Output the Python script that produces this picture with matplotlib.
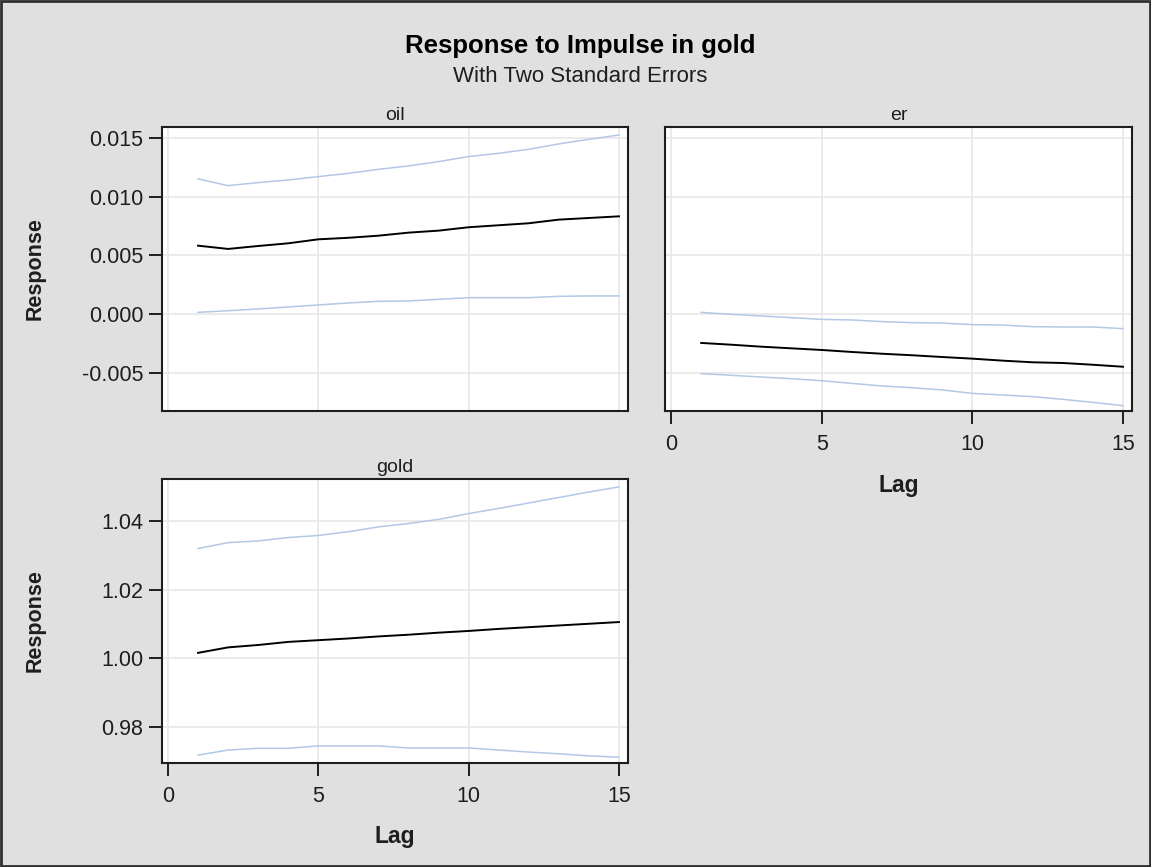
import matplotlib
matplotlib.use("Agg")
import matplotlib.pyplot as plt
from matplotlib.patches import Rectangle
from matplotlib.ticker import FormatStrFormatter

plt.rcParams["font.family"] = ["Liberation Sans", "DejaVu Sans"]

lags = list(range(1, 16))

oil_up = [0.01152, 0.01095, 0.01121, 0.01143, 0.01172, 0.01200, 0.01234, 0.01263,
          0.01300, 0.01343, 0.01371, 0.01405, 0.01451, 0.01490, 0.01527]
oil_mid = [0.00583, 0.00555, 0.00580, 0.00603, 0.00637, 0.00650, 0.00668, 0.00694,
           0.00711, 0.00740, 0.00757, 0.00774, 0.00805, 0.00819, 0.00833]
oil_lo = [0.00014, 0.00028, 0.00043, 0.00060, 0.00077, 0.00094, 0.00108, 0.00111,
          0.00125, 0.00139, 0.00139, 0.00139, 0.00151, 0.00154, 0.00154]

er_up = [0.00014, -0.00003, -0.00017, -0.00031, -0.00046, -0.00051, -0.00065, -0.00074,
         -0.00077, -0.00091, -0.00094, -0.00108, -0.00111, -0.00111, -0.00125]
er_mid = [-0.00247, -0.00262, -0.00279, -0.00293, -0.00307, -0.00324, -0.00339, -0.00352,
          -0.00367, -0.00381, -0.00398, -0.00412, -0.00418, -0.00433, -0.00450]
er_lo = [-0.00509, -0.00523, -0.00538, -0.00552, -0.00569, -0.00592, -0.00614, -0.00629,
         -0.00648, -0.00677, -0.00691, -0.00705, -0.00728, -0.00754, -0.00782]

gold_up = [1.0321, 1.0338, 1.0343, 1.0353, 1.0359, 1.0370, 1.0384, 1.0394,
           1.0406, 1.0423, 1.0438, 1.0454, 1.0470, 1.0486, 1.0501]
gold_mid = [1.0016, 1.0032, 1.0039, 1.0048, 1.0053, 1.0058, 1.0064, 1.0069,
            1.0075, 1.0080, 1.0086, 1.0091, 1.0096, 1.0101, 1.0106]
gold_lo = [0.9717, 0.9732, 0.9737, 0.9737, 0.9744, 0.9744, 0.9744, 0.9738,
           0.9738, 0.9738, 0.9732, 0.9726, 0.9721, 0.9715, 0.9711]

small_ticks = [-0.005, 0.0, 0.005, 0.010, 0.015]
gold_ticks = [0.98, 1.00, 1.02, 1.04]
x_ticks = [0, 5, 10, 15]

BAND = "#b3c8e6"
BG = "#e0e0e0"
INK = "#1e1e1e"

fig = plt.figure(figsize=(11.51, 8.67), dpi=100, facecolor=BG)
fig.patches.append(Rectangle((0.0008, 0.0008), 0.9984, 0.9984, transform=fig.transFigure,
                             fill=False, edgecolor="#303030", lw=2))

ax_oil = fig.add_axes([0.1407, 0.5263, 0.4049, 0.3276])
ax_er = fig.add_axes([0.5778, 0.5263, 0.4057, 0.3276])
ax_gold = fig.add_axes([0.1407, 0.1203, 0.4049, 0.3272])

panels = [(ax_oil, "oil", oil_up, oil_mid, oil_lo),
          (ax_er, "er", er_up, er_mid, er_lo),
          (ax_gold, "gold", gold_up, gold_mid, gold_lo)]

for ax, name, up, mid, lo in panels:
    ax.set_facecolor("white")
    ax.plot(lags, up, color=BAND, lw=1.1, zorder=3)
    ax.plot(lags, lo, color=BAND, lw=1.1, zorder=3)
    ax.plot(lags, mid, color="black", lw=1.4, zorder=4)
    ax.set_xlim(-0.2, 15.3)
    ax.set_xticks(x_ticks)
    ax.grid(True, color="#e8e8e8", lw=1.2)
    ax.set_axisbelow(True)
    for s in ax.spines.values():
        s.set_color(INK)
        s.set_linewidth(1.5)
    ax.tick_params(labelsize=15.5, length=9.5, width=1.4, color=INK, labelcolor=INK)
    ax.tick_params(axis="x", pad=7)
    ax.tick_params(axis="y", pad=4)
    ax.set_title(name, fontsize=14, pad=5, color=INK)

ax_oil.set_ylim(-0.00825, 0.01598)
ax_er.set_ylim(-0.00825, 0.01598)
ax_oil.set_yticks(small_ticks)
ax_er.set_yticks(small_ticks)
ax_oil.yaxis.set_major_formatter(FormatStrFormatter("%.3f"))
ax_oil.tick_params(axis="x", bottom=False, labelbottom=False)
ax_er.tick_params(axis="y", left=False, labelleft=False)

ax_gold.set_ylim(0.9695, 1.0524)
ax_gold.set_yticks(gold_ticks)
ax_gold.yaxis.set_major_formatter(FormatStrFormatter("%.2f"))

# axis labels placed at fixed spots so both "Response" labels line up
fig.text(0.0304, 0.690, "Response", rotation=90, ha="center", va="center",
         fontsize=15.5, fontweight="bold", color=INK)
fig.text(0.0304, 0.284, "Response", rotation=90, ha="center", va="center",
         fontsize=15.5, fontweight="bold", color=INK)
fig.text(0.7806, 0.4325, "Lag", ha="center", va="baseline",
         fontsize=16.5, fontweight="bold", color=INK)
fig.text(0.3432, 0.0273, "Lag", ha="center", va="baseline",
         fontsize=16.5, fontweight="bold", color=INK)

fig.text(0.504, 0.9389, "Response to Impulse in gold", ha="center", va="baseline",
         fontsize=18.5, fontweight="bold", color="black")
fig.text(0.504, 0.9054, "With Two Standard Errors", ha="center", va="baseline",
         fontsize=16, color=INK)

fig.savefig("out.png", dpi=100, facecolor=BG)
